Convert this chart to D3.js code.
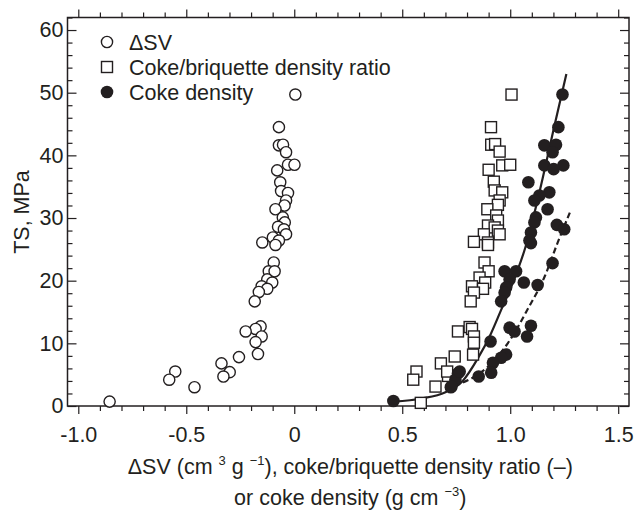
<!DOCTYPE html>
<html>
<head>
<meta charset="utf-8">
<script src="https://d3js.org/d3.v7.min.js"></script>
<style>
  body { margin: 0; background: #fff; }
  text { font-family: "Liberation Sans", Arial, sans-serif; fill: #231f20; }
</style>
</head>
<body>
<div id="chart"></div>
<script>
// ΔSV (cm3/g) vs TS
const dsvX = [0.005, -0.071, -0.071, -0.052, -0.038, -0.029, 0.001, -0.079, -0.065, -0.061, -0.029, -0.038, -0.045, -0.087, -0.053, -0.044, -0.075, -0.048, -0.038, -0.099, -0.071, -0.148, -0.087, -0.095, -0.118, -0.091, -0.125, -0.102, -0.151, -0.125, -0.164, -0.183, -0.156, -0.179, -0.225, -0.151, -0.179, -0.168, -0.256, -0.337, -0.299, -0.328, -0.551, -0.579, -0.462, -0.855];
const dsvY = [49.7, 44.5, 41.6, 41.7, 40.5, 38.5, 38.5, 37.6, 35.7, 34.3, 34.0, 32.8, 32.0, 31.4, 30.1, 29.3, 28.6, 28.2, 27.4, 26.9, 26.4, 26.1, 25.7, 22.9, 21.5, 21.5, 20.2, 19.7, 19.1, 18.7, 18.2, 16.7, 12.7, 12.3, 11.9, 11.1, 10.2, 8.3, 7.8, 6.8, 5.4, 4.7, 5.5, 4.2, 3.0, 0.7];

// coke/briquette density ratio vs TS
const ratioX = [1.006, 0.911, 0.912, 0.930, 0.951, 0.963, 1.0, 0.900, 0.924, 0.928, 0.963, 0.951, 0.943, 0.894, 0.935, 0.943, 0.897, 0.928, 0.943, 0.951, 0.878, 0.832, 0.897, 0.897, 0.881, 0.900, 0.858, 0.884, 0.823, 0.874, 0.832, 0.817, 0.758, 0.812, 0.823, 0.832, 0.832, 0.828, 0.743, 0.679, 0.712, 0.566, 0.551, 0.654, 0.586, 0.708];
const ratioY = [49.7, 44.5, 41.7, 41.8, 40.6, 38.4, 38.5, 37.7, 35.8, 34.4, 34.1, 32.8, 32.1, 31.4, 30.4, 29.6, 28.8, 28.5, 28.0, 27.4, 27.4, 26.2, 26.1, 25.7, 22.9, 21.5, 20.5, 19.7, 19.1, 18.7, 18.1, 16.7, 11.9, 12.6, 12.3, 11.1, 10.1, 8.2, 7.9, 6.8, 4.8, 5.5, 4.2, 3.1, 0.5, 5.5];

// coke density (g/cm3) vs TS
const densX = [1.242, 1.223, 1.158, 1.212, 1.196, 1.158, 1.246, 1.201, 1.084, 1.181, 1.135, 1.112, 1.173, 1.119, 1.112, 1.216, 1.250, 1.096, 1.089, 1.096, 1.196, 0.974, 1.027, 0.997, 1.063, 1.127, 0.981, 0.974, 0.958, 0.997, 1.020, 1.096, 1.078, 0.909, 0.981, 0.958, 0.920, 0.912, 0.854, 0.459, 0.725, 0.758, 0.746, 0.766, 0.728];
const densY = [49.7, 44.5, 41.6, 41.7, 40.5, 38.4, 38.4, 37.8, 35.7, 34.1, 33.6, 32.8, 31.4, 30.1, 29.3, 28.9, 28.2, 27.7, 26.4, 26.0, 22.8, 21.5, 21.5, 20.2, 19.7, 19.3, 18.9, 18.1, 16.7, 12.5, 11.9, 12.8, 11.1, 10.3, 8.2, 7.7, 6.9, 5.3, 4.7, 0.8, 3.0, 5.2, 4.2, 5.5, 3.1];

// trend curves
const solidX = [0.46, 0.59, 0.70, 0.78, 0.85, 0.91, 0.96, 1.01, 1.07, 1.15, 1.20, 1.26];
const solidY = [0.7, 1.2, 2.2, 4.0, 7.6, 11.5, 15.5, 19.5, 25.3, 36.3, 44.0, 53.0];
const dashX = [0.74, 0.77, 0.85, 0.93, 1.00, 1.08, 1.16, 1.22, 1.28];
const dashY = [3.2, 3.6, 5.0, 7.4, 10.6, 15.4, 20.7, 26.1, 31.2];

const xTicks = [-1.0, -0.5, 0, 0.5, 1.0, 1.5];
const xTickLabels = ['-1.0', '-0.5', '0', '0.5', '1.0', '1.5'];
const yTicks = [0, 10, 20, 30, 40, 50, 60];

const legendItems = ['\u0394SV', 'Coke/briquette density ratio', 'Coke density'];

const width = 634;
const height = 511;
const margins = { top: 17.5, right: 5, bottom: 105, left: 67.5 };
const ink = '#231f20';
const fontSize = '21.5px';

const svg = d3.select('#chart')
  .append('svg')
  .attr('width', width)
  .attr('height', height);

const xScale = d3.scaleLinear()
  .domain([-1.05, 1.55])
  .range([margins.left, width - margins.right]);

const yScale = d3.scaleLinear()
  .domain([0, 62])
  .range([height - margins.bottom, margins.top]);

const x0 = xScale.range()[0], x1 = xScale.range()[1];
const y0 = yScale.range()[0], y1 = yScale.range()[1];

const xMinor = d3.range(-10, 16).map(function(d) { return d / 10; }).filter(function(d) { return xTicks.indexOf(d) < 0; });
const yMinor = d3.range(0, 63, 2).filter(function(d) { return d % 10 !== 0; });

// bottom axis, ticks outward
const xAxis = d3.axisBottom(xScale)
  .tickValues(xTicks)
  .tickFormat(function(d, i) { return xTickLabels[i]; })
  .tickSizeInner(8)
  .tickSizeOuter(0)
  .tickPadding(13);

const xG = svg.append('g')
  .attr('class', 'xAxis')
  .attr('transform', 'translate(0,' + y0 + ')')
  .call(xAxis);

svg.append('g')
  .attr('transform', 'translate(0,' + y0 + ')')
  .call(d3.axisBottom(xScale).tickValues(xMinor).tickSize(5).tickFormat('').tickSizeOuter(0));

// top axis, ticks outward
svg.append('g')
  .attr('transform', 'translate(0,' + y1 + ')')
  .call(d3.axisTop(xScale).tickValues(xTicks).tickSize(8).tickFormat('').tickSizeOuter(0));
svg.append('g')
  .attr('transform', 'translate(0,' + y1 + ')')
  .call(d3.axisTop(xScale).tickValues(xMinor).tickSize(5).tickFormat('').tickSizeOuter(0));

// left axis, ticks inward
const yAxis = d3.axisLeft(yScale)
  .tickValues(yTicks)
  .tickSizeInner(-9)
  .tickSizeOuter(0)
  .tickPadding(4);

svg.append('g')
  .attr('class', 'yAxis')
  .attr('transform', 'translate(' + x0 + ',0)')
  .call(yAxis);
svg.append('g')
  .attr('transform', 'translate(' + x0 + ',0)')
  .call(d3.axisLeft(yScale).tickValues(yMinor).tickSize(-5).tickFormat('').tickSizeOuter(0));

// right axis, ticks inward
svg.append('g')
  .attr('transform', 'translate(' + x1 + ',0)')
  .call(d3.axisRight(yScale).tickValues(yTicks).tickSize(-9).tickFormat('').tickSizeOuter(0));
svg.append('g')
  .attr('transform', 'translate(' + x1 + ',0)')
  .call(d3.axisRight(yScale).tickValues(yMinor).tickSize(-5).tickFormat('').tickSizeOuter(0));

svg.selectAll('.domain').remove();
svg.selectAll('.tick line').style('stroke', ink).style('stroke-width', 1.2);
svg.selectAll('.tick text')
  .style('font-size', fontSize)
  .style('font-family', '"Liberation Sans", Arial, sans-serif')
  .style('fill', ink);
xG.selectAll('.tick text').attr('dy', '0.71em');

// frame
svg.append('rect')
  .attr('x', x0)
  .attr('y', y1)
  .attr('width', x1 - x0)
  .attr('height', y0 - y1)
  .style('fill', 'none')
  .style('stroke', ink)
  .style('stroke-width', 1.5);

const plot = svg.append('g').attr('class', 'marks');

// fit curves
const line = d3.line()
  .x(function(d) { return xScale(d[0]); })
  .y(function(d) { return yScale(d[1]); })
  .curve(d3.curveMonotoneX);

plot.append('path')
  .attr('d', line(d3.zip(solidX, solidY)))
  .style('fill', 'none')
  .style('stroke', ink)
  .style('stroke-width', 2.2);

plot.append('path')
  .attr('d', line(d3.zip(dashX, dashY)))
  .style('fill', 'none')
  .style('stroke', ink)
  .style('stroke-width', 2.2)
  .style('stroke-dasharray', '6,3.5');

// ΔSV open circles
plot.selectAll('circle.dsv')
  .data(d3.zip(dsvX, dsvY))
  .enter()
  .append('circle')
  .attr('class', 'dsv')
  .attr('cx', function(d) { return xScale(d[0]); })
  .attr('cy', function(d) { return yScale(d[1]); })
  .attr('r', 5.6)
  .style('fill', '#fff')
  .style('stroke', ink)
  .style('stroke-width', 1.4);

// ratio open squares
const sq = 11;
plot.selectAll('rect.ratio')
  .data(d3.zip(ratioX, ratioY))
  .enter()
  .append('rect')
  .attr('class', 'ratio')
  .attr('x', function(d) { return xScale(d[0]) - sq / 2; })
  .attr('y', function(d) { return yScale(d[1]) - sq / 2; })
  .attr('width', sq)
  .attr('height', sq)
  .style('fill', '#fff')
  .style('stroke', ink)
  .style('stroke-width', 1.4);

// coke density filled circles
plot.selectAll('circle.dens')
  .data(d3.zip(densX, densY))
  .enter()
  .append('circle')
  .attr('class', 'dens')
  .attr('cx', function(d) { return xScale(d[0]); })
  .attr('cy', function(d) { return yScale(d[1]); })
  .attr('r', 6.3)
  .style('fill', ink);

// legend
const legend = svg.append('g').attr('class', 'legend');
legendItems.forEach(function(label, i) {
  const cy = 42 + i * 25;
  if (i === 0) {
    legend.append('circle').attr('cx', 107).attr('cy', cy).attr('r', 5.6)
      .style('fill', '#fff').style('stroke', ink).style('stroke-width', 1.4);
  } else if (i === 1) {
    legend.append('rect').attr('x', 107 - sq / 2).attr('y', cy - sq / 2).attr('width', sq).attr('height', sq)
      .style('fill', '#fff').style('stroke', ink).style('stroke-width', 1.4);
  } else {
    legend.append('circle').attr('cx', 107).attr('cy', cy).attr('r', 6.3).style('fill', ink);
  }
  legend.append('text')
    .attr('x', 129)
    .attr('y', cy + 8)
    .style('font-size', fontSize)
    .text(label);
});

// axis titles
svg.append('text')
  .attr('transform', 'translate(29,212) rotate(-90)')
  .style('text-anchor', 'middle')
  .style('font-size', fontSize)
  .text('TS, MPa');

const t1 = svg.append('text')
  .attr('x', (x0 + x1) / 2 + 2)
  .attr('y', 474)
  .style('text-anchor', 'middle')
  .style('font-size', fontSize);
t1.append('tspan').text('\u0394SV (cm ');
t1.append('tspan').attr('dy', -9).style('font-size', '13px').text('3');
t1.append('tspan').attr('dy', 9).text(' g ');
t1.append('tspan').attr('dy', -9).style('font-size', '13px').text('\u22121');
t1.append('tspan').attr('dy', 9).text('), coke/briquette density ratio (\u2013)');

const t2 = svg.append('text')
  .attr('x', (x0 + x1) / 2 + 2)
  .attr('y', 505)
  .style('text-anchor', 'middle')
  .style('font-size', fontSize);
t2.append('tspan').text('or coke density (g cm ');
t2.append('tspan').attr('dy', -9).style('font-size', '13px').text('\u22123');
t2.append('tspan').attr('dy', 9).text(')');
</script>
</body>
</html>
